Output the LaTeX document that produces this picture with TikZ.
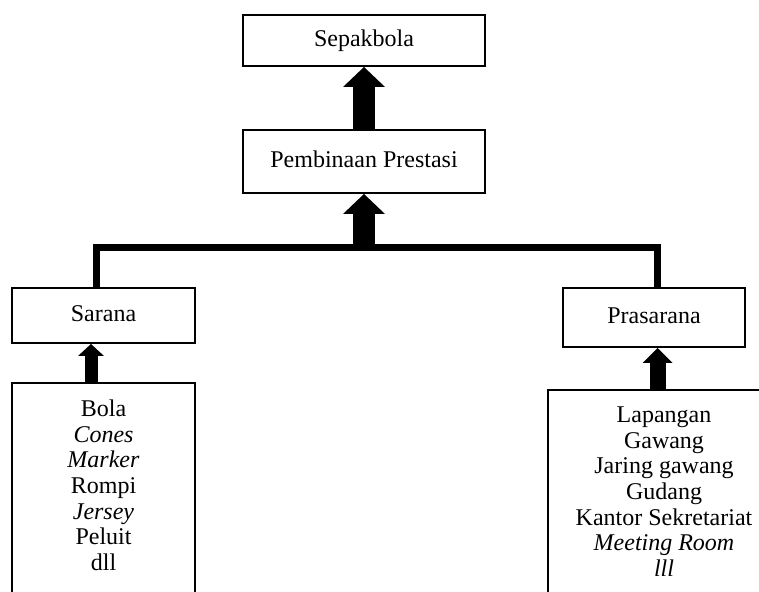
\documentclass[tikz,border=0pt]{standalone}
\usepackage{fontspec}
\setmainfont{Liberation Serif}
\usetikzlibrary{arrows.meta}
\usetikzlibrary{positioning}
\tikzset{
  box/.style={draw, line width=1pt, text height=8.5pt, text depth=2.5pt, font=\fontsize{12}{12.8}\selectfont},
  listbox/.style={draw, line width=1pt, align=center, inner ysep=8.5pt, text depth=24pt, font=\fontsize{12}{12.8}\selectfont},
  bracket/.style={line width=3.5pt},
  bigarrow/.style={line width=11pt, -{Triangle[width=21pt,length=10pt,line width=0pt]}},
  sarrow/.style={line width=6.5pt, -{Triangle[width=13pt,length=6pt,line width=0pt]}},
  parrow/.style={line width=8pt, -{Triangle[width=15pt,length=7.5pt,line width=0pt]}}
}

\begin{document}
\begin{tikzpicture}[x=0.5pt,y=-0.5pt]
  \useasboundingbox (0,0) rectangle (759,592);
  \node[box, minimum width=121pt, minimum height=25.5pt] (sepakbola) at (364,40.5) {Sepakbola};
  \node[box, minimum width=121pt, minimum height=31.5pt, below=31pt of sepakbola] (pembinaan) {Pembinaan Prestasi};
  \node[box, minimum width=91.5pt, minimum height=27.5pt] (sarana) at (103.5,315.5) {Sarana};
  \node[box, minimum width=91pt, minimum height=29.5pt] (prasarana) at (654,317.5) {Prasarana};
  \node[listbox, minimum width=91.5pt, below=19pt of sarana] (saranalist) {Bola\\ \textit{Cones}\\ \textit{Marker}\\ Rompi\\ \textit{Jersey}\\ Peluit\\ dll};
  \node[listbox, minimum width=116pt, anchor=north west] (prasaranalist) at (547,389) {Lapangan\\ Gawang\\ Jaring gawang\\ Gudang\\ Kantor Sekretariat\\ \textit{Meeting Room}\\ \textit{lll}};
  \coordinate (jl) at (96,247.5);
  \coordinate (jr) at (657.5,247.5);
  \coordinate (sa) at (91,0);
  \draw[bracket] (sarana.north -| jl) -- (jl) -- (jr) -- (prasarana.north -| jr);
  \draw[bigarrow] (pembinaan.south |- jl) -- (pembinaan.south);
  \draw[bigarrow] (pembinaan.north) -- (sepakbola.south);
  \draw[sarrow] (saranalist.north -| sa) -- (sarana.south -| sa);
  \draw[parrow] (prasaranalist.north -| jr) -- (prasarana.south -| jr);
\end{tikzpicture}
\end{document}
